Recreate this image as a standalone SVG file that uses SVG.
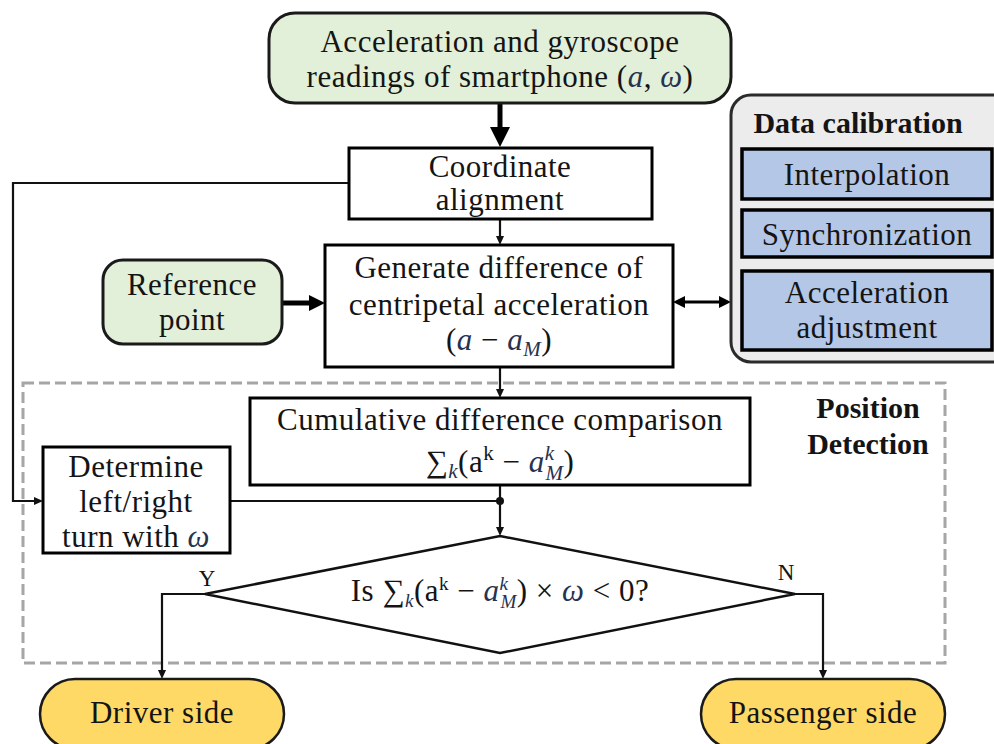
<svg xmlns="http://www.w3.org/2000/svg" width="994" height="744" viewBox="0 0 994 744">
  <defs>
    <style>
      text { font-family: "Liberation Serif", "Times New Roman", serif; fill: #141414; text-anchor: middle; }
      .t { font-size: 31px; letter-spacing: 0.5px; }
      .b { font-size: 30px; font-weight: bold; }
      .yn { font-size: 23px; }
      .m { font-style: italic; fill: #26324f; }
      .box { fill: #ffffff; stroke: #000; stroke-width: 3; }
      .start { fill: #e2efd9; stroke: #1a1a1a; stroke-width: 3; }
      .cal { fill: #b4c7e7; stroke: #000; stroke-width: 3.5; }
      .panel { fill: #ececec; stroke: #2b2b2b; stroke-width: 3; }
      .end { fill: #ffd966; stroke: #1a1a1a; stroke-width: 2.5; }
      .wire { fill: none; stroke: #111; stroke-width: 2.2; }
      .heavy { fill: none; stroke: #000; stroke-width: 5; }
      .mid { fill: none; stroke: #000; stroke-width: 3; }
      .zone { fill: none; stroke: #a6a6a6; stroke-width: 3; stroke-dasharray: 11 5; }
    </style>
    <marker id="head-thin" markerUnits="userSpaceOnUse" markerWidth="9" markerHeight="8" refX="0" refY="4" orient="auto">
      <path d="M0,0 L9,4 L0,8 z" fill="#111"/>
    </marker>
    <marker id="head-big" markerUnits="userSpaceOnUse" markerWidth="20" markerHeight="20" refX="0" refY="10" orient="auto">
      <path d="M0,0 L20,10 L0,20 z" fill="#000"/>
    </marker>
    <marker id="head-mid" markerUnits="userSpaceOnUse" markerWidth="16" markerHeight="16" refX="0" refY="8" orient="auto">
      <path d="M0,0 L16,8 L0,16 z" fill="#000"/>
    </marker>
    <marker id="head-two" markerUnits="userSpaceOnUse" markerWidth="12" markerHeight="12" refX="0" refY="6" orient="auto-start-reverse">
      <path d="M0,0 L12,6 L0,12 z" fill="#000"/>
    </marker>
  </defs>

  <rect width="994" height="744" fill="#ffffff"/>

  <!-- Position detection zone -->
  <g id="position-detection">
    <rect class="zone" x="23" y="383" width="922" height="280"/>
    <text class="b" x="868" y="418">Position</text>
    <text class="b" x="868" y="454">Detection</text>
  </g>

  <g id="connectors">
    <line class="heavy" x1="500" y1="103" x2="500" y2="127" marker-end="url(#head-big)"/>
    <line class="wire" x1="500" y1="219" x2="500" y2="236" marker-end="url(#head-thin)"/>
    <line class="heavy" x1="282" y1="303" x2="309" y2="303" marker-end="url(#head-mid)"/>
    <line class="mid" x1="685" y1="302" x2="719" y2="302" marker-start="url(#head-two)" marker-end="url(#head-two)"/>
    <line class="wire" x1="500" y1="367" x2="500" y2="389" marker-end="url(#head-thin)"/>
    <polyline class="wire" points="349,183 13,183 13,501 34,501" marker-end="url(#head-thin)"/>
    <line class="wire" x1="230" y1="501" x2="500" y2="501"/>
    <line class="wire" x1="500" y1="485" x2="500" y2="527" marker-end="url(#head-thin)"/>
    <circle cx="500" cy="501" r="4" fill="#111"/>
    <polyline class="wire" points="205,594 162,594 162,670" marker-end="url(#head-thin)"/>
    <polyline class="wire" points="795,594 823,594 823,670" marker-end="url(#head-thin)"/>
  </g>

  <g id="sensor-input">
    <rect class="start" x="269" y="13" width="462" height="90" rx="26"/>
    <text class="t" x="500" y="52">Acceleration and gyroscope</text>
    <text class="t" x="500" y="87">readings of smartphone (<tspan class="m">a</tspan>, <tspan class="m">ω</tspan>)</text>
  </g>

  <g id="coordinate-alignment">
    <rect class="box" x="349" y="148" width="303" height="71"/>
    <text class="t" x="500" y="177">Coordinate</text>
    <text class="t" x="500" y="210">alignment</text>
  </g>

  <g id="reference-point">
    <rect class="start" x="103" y="260" width="179" height="84" rx="20"/>
    <text class="t" x="192" y="295">Reference</text>
    <text class="t" x="192" y="330">point</text>
  </g>

  <g id="generate-difference">
    <rect class="box" x="325" y="245" width="348" height="122"/>
    <text class="t" x="499" y="278">Generate difference of</text>
    <text class="t" x="499" y="315">centripetal acceleration</text>
    <text class="t" x="499" y="350" font-size="32">(<tspan class="m">a</tspan> − <tspan class="m">a</tspan><tspan class="m" font-size="21" dy="6">M</tspan><tspan dy="-6">)</tspan></text>
  </g>

  <g id="data-calibration">
    <rect class="panel" x="731" y="95" width="290" height="267" rx="20"/>
    <text class="b" x="858" y="133">Data calibration</text>
    <rect class="cal" x="742" y="149" width="250" height="50"/>
    <text class="t" x="867" y="185">Interpolation</text>
    <rect class="cal" x="742" y="210" width="250" height="47"/>
    <text class="t" x="867" y="245">Synchronization</text>
    <rect class="cal" x="742" y="271" width="250" height="79"/>
    <text class="t" x="867" y="303">Acceleration</text>
    <text class="t" x="867" y="338">adjustment</text>
  </g>

  <g id="cumulative-comparison">
    <rect class="box" x="250" y="398" width="500" height="87"/>
    <text class="t" x="500" y="430">Cumulative difference comparison</text>
    <text class="t" x="500" y="472" font-size="32">∑<tspan class="m" font-size="21" dy="6">k</tspan><tspan dy="-6">(a</tspan><tspan font-size="21" dy="-12">k</tspan><tspan dy="12"> − </tspan><tspan class="m">a</tspan><tspan class="m" font-size="21" dy="-12">k</tspan><tspan class="m" font-size="21" dx="-9" dy="20">M</tspan><tspan dy="-8">)</tspan></text>
  </g>

  <g id="turn-direction">
    <rect class="box" x="43" y="447" width="187" height="106"/>
    <text class="t" x="136" y="477">Determine</text>
    <text class="t" x="136" y="512">left/right</text>
    <text class="t" x="136" y="547">turn with <tspan class="m">ω</tspan></text>
  </g>

  <g id="side-decision">
    <polygon points="500,536 795,594 500,653 205,594" fill="#ffffff" stroke="#111" stroke-width="2.5"/>
    <text class="t" x="500" y="601" font-size="27">Is ∑<tspan class="m" font-size="19" dy="6">k</tspan><tspan dy="-6">(a</tspan><tspan font-size="19" dy="-11">k</tspan><tspan dy="11"> − </tspan><tspan class="m">a</tspan><tspan class="m" font-size="19" dy="-11">k</tspan><tspan class="m" font-size="19" dx="-8" dy="18">M</tspan><tspan dy="-7">) × </tspan><tspan class="m">ω</tspan> &lt; 0?</text>
    <text class="yn" x="207" y="586">Y</text>
    <text class="yn" x="786" y="580">N</text>
  </g>

  <g id="driver-side">
    <rect class="end" x="40" y="679" width="244" height="70" rx="35"/>
    <text class="t" x="162" y="723">Driver side</text>
  </g>

  <g id="passenger-side">
    <rect class="end" x="701" y="679" width="244" height="70" rx="35"/>
    <text class="t" x="823" y="723">Passenger side</text>
  </g>
</svg>
